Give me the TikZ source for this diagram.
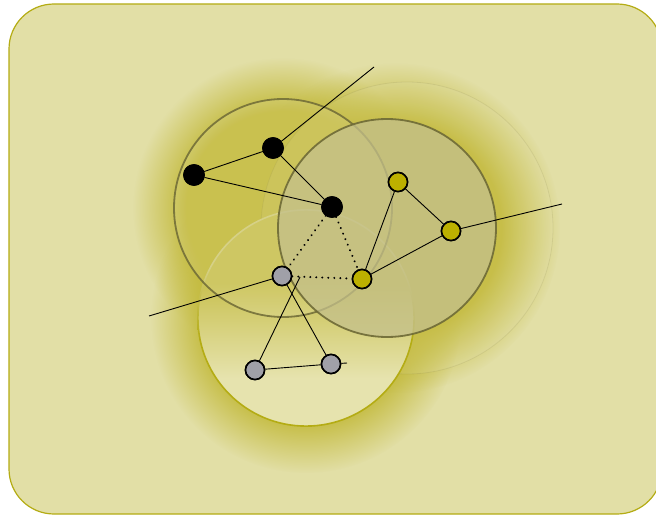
\documentclass[tikz,border=0pt]{standalone}
\usetikzlibrary{fadings}
\definecolor{bgfill}{HTML}{E2DFA6}
\definecolor{bgline}{HTML}{B4AC14}
\definecolor{glowc}{HTML}{C3BA3C}
\definecolor{ynode}{HTML}{BCB000}
\definecolor{gnode}{HTML}{A0A0A8}
\definecolor{ringdark}{HTML}{6E6A36}
\definecolor{ctop}{HTML}{C9C152}
\definecolor{cbot}{HTML}{E6E3AE}
\definecolor{ctopline}{HTML}{D2CC7A}
\definecolor{bfill}{HTML}{C4C08C}
\pgfdeclareradialshading{glowsh}{\pgfpoint{0bp}{0bp}}{color(0bp)=(pgftransparent!0); color(16bp)=(pgftransparent!0); color(25bp)=(pgftransparent!100); color(50bp)=(pgftransparent!100)}
\pgfdeclarefading{glowfade}{\pgfuseshading{glowsh}}
\pgfdeclareverticalshading{cshade}{100bp}{color(0bp)=(cbot); color(36bp)=(cbot); color(58bp)=(ctop); color(100bp)=(ctop)}
\pgfdeclareverticalshading{clineshade}{100bp}{color(0bp)=(bgline); color(45bp)=(bgline); color(62bp)=(ctopline); color(100bp)=(ctopline)}
\tikzset{
  glow/.style={fill=glowc, path fading=glowfade},
  nd/.style={circle, draw=black, line width=1.6pt, minimum size=19pt, inner sep=0pt},
  bk/.style={nd, fill=black, minimum size=20pt},
  yl/.style={nd, fill=ynode},
  gr/.style={nd, fill=gnode},
  edge/.style={line width=0.9pt, black},
  dot/.style={line width=2.2pt, dash pattern=on 0.01pt off 6pt, line cap=round, black}
}
\begin{document}
\begin{tikzpicture}[x=1pt,y=-1pt]
\useasboundingbox (0,0) rectangle (656,516);
\draw[fill=bgfill, draw=bgline, line width=1.2pt, rounded corners=45pt] (9,4) rectangle (662,514);
% glows
\fill[glow] (283,208) circle (150);
\fill[glow] (306,318) circle (155);
\fill[glow] (395,228) circle (165);
% faint outer circle
\draw[draw=ringdark, draw opacity=0.12, fill=white, fill opacity=0.07, line width=0.8pt] (407,228) circle (146);
% circle C (lighter towards the bottom)
\shade[shading=cshade] (306,318) circle (108);
\shade[shading=clineshade, even odd rule] (306,318) circle (108.9) (306,318) circle (107.3);
% circle A
\draw[fill=white, fill opacity=0.1, draw=ringdark, draw opacity=0.85, line width=1.8pt] (283,208) circle (109);
% circle B
\draw[fill=bfill, fill opacity=0.75, draw=ringdark, draw opacity=0.9, line width=1.8pt] (387,228) circle (109);
% nodes
\node[bk] (a1) at (273,148) {};
\node[bk] (a2) at (194,175) {};
\node[bk] (a3) at (332,207) {};
\node[yl] (b1) at (398,182) {};
\node[yl] (b2) at (451,231) {};
\node[yl] (b3) at (362,279) {};
\node[gr] (c1) at (282,276) {};
\node[gr] (c2) at (255,370) {};
\node[gr] (c3) at (331,364) {};
\coordinate (fa) at (374,67);
\coordinate (fb) at (562,204);
\coordinate (fc) at (149,316);
\coordinate (fd) at (347,363);
\coordinate (fe) at (300,277);
% edges
\draw[edge] (a1) -- (fa);
\draw[edge] (a2) -- (a1);
\draw[edge] (a2) -- (a3);
\draw[edge] (a1) -- (a3);
\draw[dot] (a3) -- (c1);
\draw[dot] (a3) -- (b3);
\draw[dot] (c1) -- (b3);
\draw[edge] (b1) -- (b3);
\draw[edge] (b1) -- (b2);
\draw[edge] (b3) -- (b2);
\draw[edge] (b2) -- (fb);
\draw[edge] (c1) -- (fc);
\draw[edge] (c1) -- (c3);
\draw[edge] (c2) -- (c3);
\draw[edge] (c3) -- (fd);
\draw[edge] (c2) -- (fe);
% redraw nodes on top
\node[bk] at (a1) {};
\node[bk] at (a2) {};
\node[bk] at (a3) {};
\node[yl] at (b1) {};
\node[yl] at (b2) {};
\node[yl] at (b3) {};
\node[gr] at (c1) {};
\node[gr] at (c2) {};
\node[gr] at (c3) {};
\end{tikzpicture}
\end{document}
